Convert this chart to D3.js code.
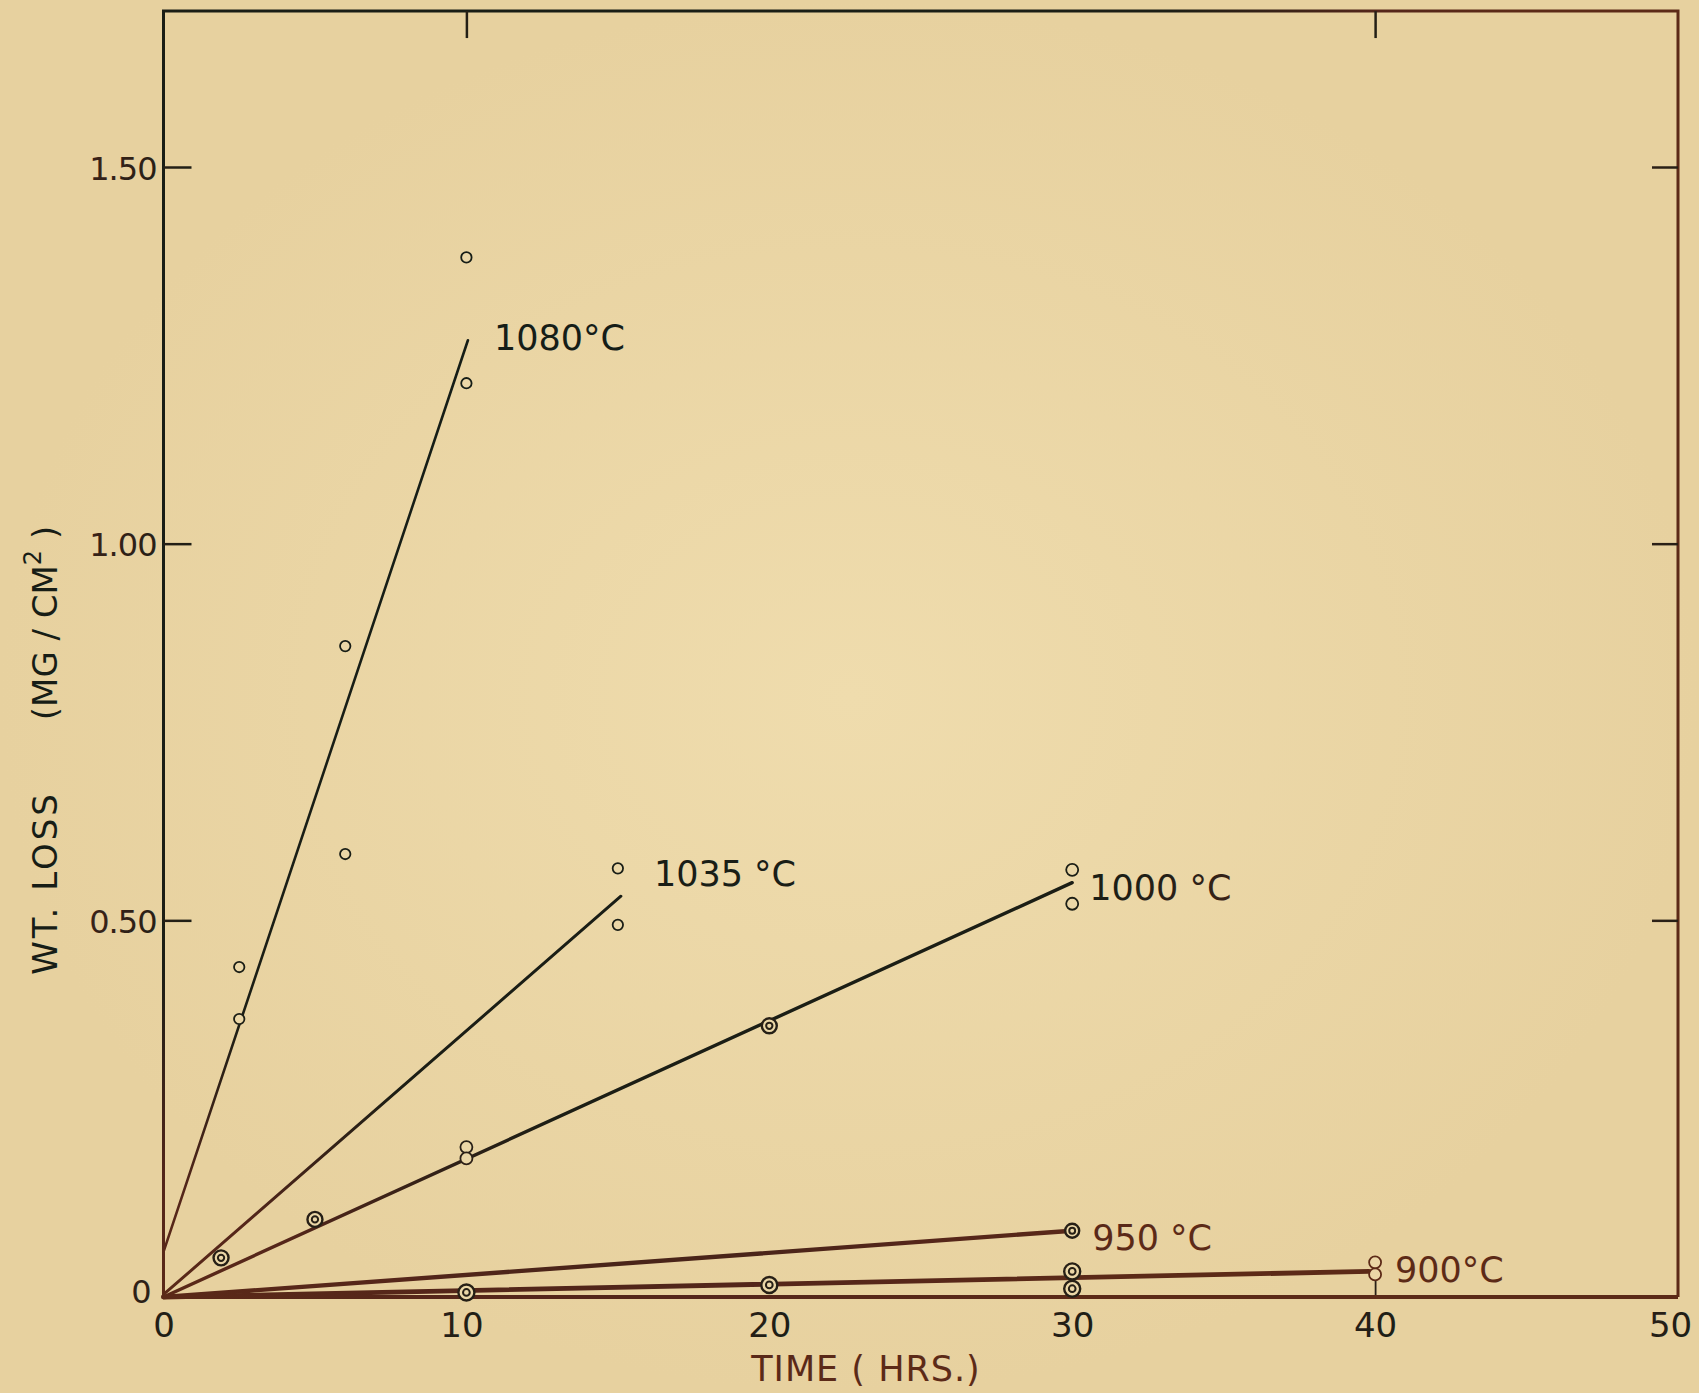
<!DOCTYPE html>
<html>
<head>
<meta charset="utf-8">
<script src="https://cdn.jsdelivr.net/npm/d3@7"></script>
<style>
  html, body { margin: 0; padding: 0; background: #ebd7a7; }
  svg { display: block; }
  text { font-family: "DejaVu Sans", sans-serif; }
</style>
</head>
<body>
<svg width="1699" height="1393"></svg>
<script>
// axis ticks
const xTicks = [0, 10, 20, 30, 40, 50];
const yTicks = [0, 0.5, 1.0, 1.5];
const yTickLabels = ["0", "0.50", "1.00", "1.50"];
const topTicks = [10, 40];
const sideTicks = [0.5, 1.0, 1.5];
const bottomTicks = [40];

// series names (temperature of each run)
const temps = ["1080°C", "1035 °C", "1000 °C", "950 °C", "900°C"];

// fitted lines, [hours, mg/cm2]
const fit1080 = [[0, 0.06], [10.05, 1.27]];
const fit1035 = [[0.05, 0.005], [15.1, 0.532]];
const fit1000 = [[0, 0], [30, 0.55]];
const fit950 = [[0, 0], [30, 0.088]];
const fit900 = [[0, 0], [39.8, 0.034]];

// open circles
const open1080 = [[10, 1.38], [10, 1.213], [6, 0.864], [6, 0.588], [2.5, 0.438], [2.5, 0.369]];
const open1035 = [[15, 0.569], [15, 0.494]];
const open1000 = [[10, 0.199], [10, 0.184], [30, 0.567], [30, 0.522]];
const open900 = [[40, 0.046], [40, 0.03]];

// double circles
const ring1000 = [[1.9, 0.052], [5, 0.103], [20, 0.36]];
const ring950 = [[30, 0.088]];
const ring900 = [[10, 0.006], [20, 0.016], [30, 0.034], [30, 0.011]];

const svg = d3.select("svg");
const paper = "#ebd7a7";
const DARK = "#171d16";

const x = d3.scaleLinear().domain([0, 50]).range([163.5, 1678]);
const y = d3.scaleLinear().domain([0, 1.5]).range([1297, 167]);

const defs = svg.append("defs");
const ink = defs.append("radialGradient")
    .attr("id", "ink")
    .attr("gradientUnits", "userSpaceOnUse")
    .attr("cx", 600).attr("cy", 420).attr("r", 1000);
ink.append("stop").attr("offset", 0).attr("stop-color", "#141d17");
ink.append("stop").attr("offset", 0.7).attr("stop-color", "#1c1e15");
ink.append("stop").attr("offset", 0.88).attr("stop-color", "#55261a");
ink.append("stop").attr("offset", 1).attr("stop-color", "#5c2a17");

const bg = defs.append("radialGradient").attr("id", "paper");
bg.append("stop").attr("offset", 0).attr("stop-color", "#efdcad");
bg.append("stop").attr("offset", 1).attr("stop-color", "#e7d19f");

svg.append("rect").attr("width", 1699).attr("height", 1393).attr("fill", "url(#paper)");

const INK = "url(#ink)";

// frame
const yTop = y(1.707);
svg.append("path")
    .attr("d", `M${x(0)},${y(0)} V${yTop} H${x(50)} V${y(0)}`)
    .attr("fill", "none").attr("stroke", INK).attr("stroke-width", 3);

// axes
const axLeft = svg.append("g").attr("transform", `translate(${x(0)},0)`)
    .call(d3.axisLeft(y).tickValues(yTicks).tickSize(-28).tickSizeOuter(0).tickPadding(7)
        .tickFormat((d, i) => yTickLabels[i]));
axLeft.select(".domain").remove();
axLeft.selectAll("line").attr("stroke", INK).attr("stroke-width", 2.5);
axLeft.selectAll("text").attr("fill", INK).attr("font-size", 32).attr("letter-spacing", -1)
    .attr("dy", d => d === 0 ? "0.16em" : "0.38em")
    .attr("x", d => d === 0 ? -13 : -7);

const axRight = svg.append("g").attr("transform", `translate(${x(50)},0)`)
    .call(d3.axisRight(y).tickValues(sideTicks).tickSize(-26).tickSizeOuter(0).tickFormat(""));
axRight.select(".domain").remove();
axRight.selectAll("line").attr("stroke", INK).attr("stroke-width", 2.5);

const axTop = svg.append("g").attr("transform", `translate(0,${yTop})`)
    .call(d3.axisTop(x).tickValues(topTicks).tickSize(-27).tickSizeOuter(0).tickFormat(""));
axTop.select(".domain").remove();
axTop.selectAll("line").attr("stroke", INK).attr("stroke-width", 2.5);

const axBottom = svg.append("g").attr("transform", `translate(0,${y(0)})`)
    .call(d3.axisBottom(x).tickValues(xTicks).tickSize(0).tickPadding(16).tickFormat(d3.format("d")));
axBottom.select(".domain").remove();
axBottom.selectAll("text").attr("fill", INK).attr("font-size", 34)
    .attr("x", d => d === 10 ? -5 : (d === 50 ? -8 : 0));

const axBottomIn = svg.append("g").attr("transform", `translate(0,${y(0)})`)
    .call(d3.axisBottom(x).tickValues(bottomTicks).tickSize(-16).tickSizeOuter(0).tickFormat(""));
axBottomIn.select(".domain").remove();
axBottomIn.selectAll("line").attr("stroke", INK).attr("stroke-width", 1.8);

svg.append("line")
    .attr("x1", x(0)).attr("x2", x(50)).attr("y1", y(0)).attr("y2", y(0))
    .attr("stroke", INK).attr("stroke-width", 4);

// axis titles
svg.append("text")
    .attr("x", 866).attr("y", 1381)
    .attr("text-anchor", "middle").attr("font-size", 35).attr("letter-spacing", 1).attr("fill", INK)
    .text("TIME ( HRS.)");

const yTitle = svg.append("g").attr("transform", "translate(57,0) rotate(-90)");
yTitle.append("text")
    .attr("x", -883).attr("y", 0)
    .attr("text-anchor", "middle").attr("font-size", 34).attr("letter-spacing", 3).attr("fill", DARK)
    .text("WT.  LOSS");
const unit = yTitle.append("text")
    .attr("x", -623).attr("y", 0)
    .attr("text-anchor", "middle").attr("font-size", 34).attr("fill", DARK);
unit.append("tspan").text("(MG / CM");
unit.append("tspan").attr("font-size", 24).attr("dy", -16).text("2");
unit.append("tspan").attr("dy", 16).text(" )");

// fitted lines
const line = d3.line().x(d => x(d[0])).y(d => y(d[1]));
const fits = [fit1080, fit1035, fit1000, fit950, fit900];
const widths = [2.6, 3, 3.4, 4.4, 4.8];
svg.selectAll(".fit")
    .data(fits)
    .enter()
    .append("path")
    .attr("class", "fit")
    .attr("d", line)
    .attr("fill", "none")
    .attr("stroke", INK)
    .attr("stroke-width", (d, i) => widths[i])
    .attr("stroke-linecap", "round");

// open circles
function openCircles(data, r) {
    svg.append("g").selectAll("circle")
        .data(data)
        .enter()
        .append("circle")
        .attr("cx", d => x(d[0]))
        .attr("cy", d => y(d[1]))
        .attr("r", r)
        .attr("fill", paper)
        .attr("stroke", INK)
        .attr("stroke-width", 1.8);
}
openCircles(open1080, 5.2);
openCircles(open1035, 5.2);
openCircles(open1000, 6);
openCircles(open900, 6);

// double circles
function rings(data, r) {
    const g = svg.append("g").selectAll("g")
        .data(data)
        .enter()
        .append("g")
        .attr("transform", d => `translate(${x(d[0])},${y(d[1])})`);
    g.append("circle").attr("r", r).attr("fill", paper)
        .attr("stroke", INK).attr("stroke-width", 2.4);
    g.append("circle").attr("r", r * 0.42).attr("fill", paper)
        .attr("stroke", INK).attr("stroke-width", 2);
}
rings(ring1000, 7.5);
rings(ring950, 7);
rings(ring900, 8);

// series labels, placed next to the end of each fitted line
const labelOffsets = [[26, 10], [33, -10], [17, 17], [20, 19], [26, 11]];
svg.selectAll(".lbl")
    .data(fits)
    .enter()
    .append("text")
    .attr("class", "lbl")
    .attr("x", (d, i) => x(d[1][0]) + labelOffsets[i][0])
    .attr("y", (d, i) => y(d[1][1]) + labelOffsets[i][1])
    .attr("font-size", 35)
    .attr("fill", INK)
    .text((d, i) => temps[i]);
</script>
</body>
</html>
